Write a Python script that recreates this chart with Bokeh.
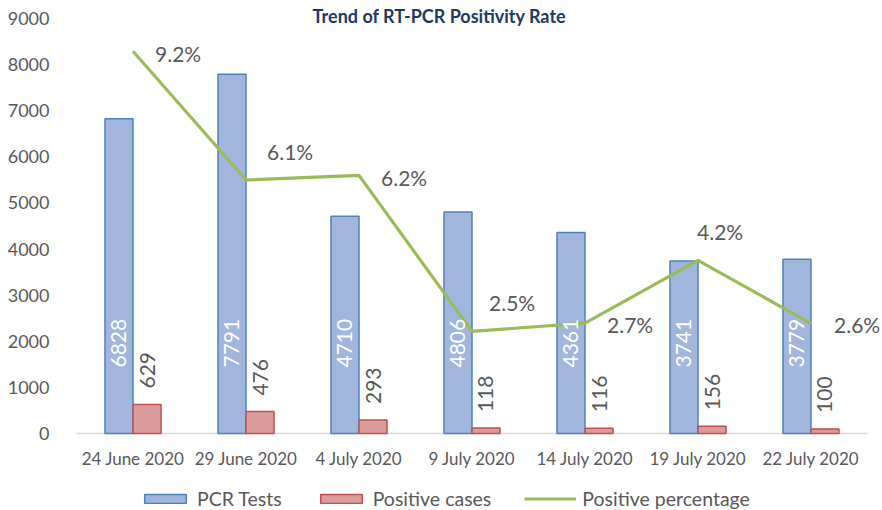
import math
from bokeh.plotting import figure
from bokeh.models import (ColumnDataSource, FactorRange, Range1d, FixedTicker, LabelSet,
                          Label, Legend, LegendItem)
from bokeh.core.properties import value
from bokeh.transform import dodge
from bokeh.embed import file_html
from bokeh.resources import INLINE

# ---- data ----
dates = ["24 June 2020", "29 June 2020", "4 July 2020", "9 July 2020",
         "14 July 2020", "19 July 2020", "22 July 2020"]
pcr_tests = [6828, 7791, 4710, 4806, 4361, 3741, 3779]
positive_cases = [629, 476, 293, 118, 116, 156, 100]
positive_pct = [9.21, 6.11, 6.22, 2.46, 2.66, 4.17, 2.65]
pct_labels = ["9.2%", "6.1%", "6.2%", "2.5%", "2.7%", "4.2%", "2.6%"]
y_ticks = [0, 1000, 2000, 3000, 4000, 5000, 6000, 7000, 8000, 9000]

# label placement (screen pixels) for the percentage labels
pct_dx = [22, 21, 22, 17, 22, -1, 23]
pct_dy = [-2, 28, -2, 29, -1, 29, -1]

FONT = "Lato"
GRAY = "#595959"

src = ColumnDataSource(dict(
    cat=dates, tests=pcr_tests, pos=positive_cases, pct=positive_pct,
    tests_txt=[str(v) for v in pcr_tests], pos_txt=[str(v) for v in positive_cases],
    pct_txt=pct_labels, dx=pct_dx, dy=pct_dy,
))

# the plotting frame covers the full height: 0..9000 spans 415 px,
# with 18 px above 9000 and 77 px below 0 (category labels + legend)
unit = 9000 / 415
y_top = 9000 + 18 * unit
y_bot = -77 * unit
xr = FactorRange(*dates, range_padding=15 / 113, range_padding_units="absolute")
p = figure(width=882, height=510, x_range=xr, y_range=Range1d(y_bot, y_top),
           output_backend="svg", toolbar_location=None,
           min_border_left=61, min_border_right=0, min_border_top=0, min_border_bottom=0)
p.extra_y_ranges = {"pct": Range1d(y_bot / 900, y_top / 900)}
p.outline_line_color = None
p.xgrid.grid_line_color = None
p.ygrid.grid_line_color = None
p.background_fill_color = "white"
p.border_fill_color = "white"
p.xaxis.visible = False

# baseline of the category axis (from the first to the last category edge)
base_src = ColumnDataSource(dict(a=[dates[0]], b=[dates[-1]], y=[0]))
p.segment(x0=dodge("a", -0.5, range=xr), x1=dodge("b", 0.5, range=xr), y0="y", y1="y",
          source=base_src, line_color="#D9D9D9", line_width=1.5)

bw = 0.248
r_tests = p.vbar(x=dodge("cat", -bw / 2, range=xr), top="tests", width=bw, bottom=0,
                 source=src, fill_color="#A0B6DC", line_color="#4F81BD", line_width=1.5)
r_pos = p.vbar(x=dodge("cat", bw / 2, range=xr), top="pos", width=bw, bottom=0,
               source=src, fill_color="#DA9C9A", line_color="#C0504D", line_width=1.5)
r_line = p.line(x="cat", y="pct", source=src, y_range_name="pct",
                line_color="#9BBB59", line_width=3.2)

# category labels
p.add_layout(LabelSet(x="cat", y=0, text="cat", source=src, y_offset=-25,
                      text_align="center", text_baseline="middle",
                      text_font=value(FONT), text_font_size="17px", text_color=GRAY))

# bar labels
p.add_layout(LabelSet(x=dodge("cat", -bw / 2, range=xr), y=0, text="tests_txt", source=src,
                      angle=math.pi / 2, y_offset=66, text_align="left", text_baseline="middle",
                      text_font=value(FONT), text_font_size="21px", text_color="white"))
p.add_layout(LabelSet(x=dodge("cat", bw / 2, range=xr), y="pos", text="pos_txt", source=src,
                      angle=math.pi / 2, y_offset=16, text_align="left", text_baseline="middle",
                      text_font=value(FONT), text_font_size="21px", text_color=GRAY))
p.add_layout(LabelSet(x="cat", y="pct", y_range_name="pct", text="pct_txt", source=src,
                      x_offset="dx", y_offset="dy", text_align="left", text_baseline="middle",
                      text_font=value(FONT), text_font_size="21px", text_color=GRAY))

# value axis
p.yaxis.ticker = FixedTicker(ticks=y_ticks)
p.yaxis.axis_line_color = None
p.yaxis.major_tick_line_color = None
p.yaxis.minor_tick_line_color = None
p.yaxis.major_label_text_font = FONT
p.yaxis.major_label_text_font_size = "18px"
p.yaxis.major_label_text_color = GRAY
p.yaxis.major_label_standoff = 6

# title at the top of the chart
p.add_layout(Label(x=378, x_units="screen", y=y_top, y_offset=-15,
                   text="Trend of RT-PCR Positivity Rate", text_align="center",
                   text_baseline="alphabetic", text_font=FONT, text_font_style="bold",
                   text_font_size="18px", text_color="#1F3864"))

legend = Legend(items=[LegendItem(label="PCR Tests", renderers=[r_tests]),
                       LegendItem(label="Positive cases", renderers=[r_pos]),
                       LegendItem(label="Positive percentage", renderers=[r_line])],
                orientation="horizontal", location=(78, 0),
                label_text_font=FONT, label_text_font_size="19.5px", label_text_color=GRAY,
                glyph_width=52, glyph_height=11, label_standoff=6, spacing=33,
                padding=0, margin=0, border_line_color=None, background_fill_alpha=0)
p.add_layout(legend, "center")

open("out.html", "w").write(file_html(p, INLINE))
